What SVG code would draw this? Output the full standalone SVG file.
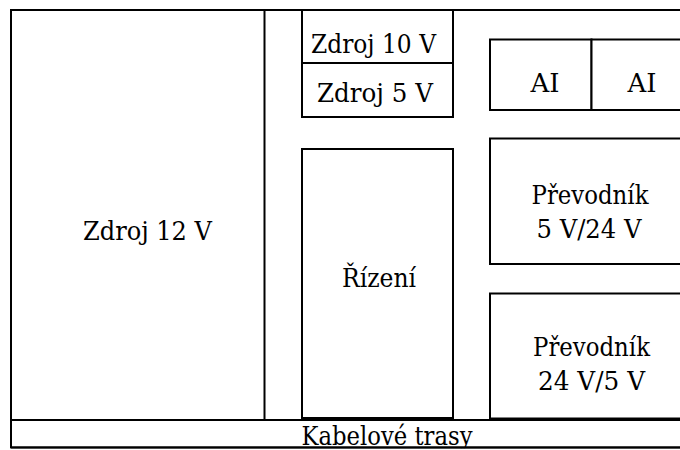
<svg xmlns="http://www.w3.org/2000/svg" width="680" height="450" viewBox="0 0 680 450">
<style>
.b{fill:#fff;stroke:#000;stroke-width:2}
.t{font-family:'DejaVu Serif','Liberation Serif',serif;font-size:26px;fill:#000;text-anchor:middle}
</style>
<rect x="0" y="0" width="680" height="450" fill="#fff"/>
<g id="frame">
<rect class="b" x="11" y="10" width="680" height="437.5"/>
</g>
<g id="kabelove-trasy">
<rect class="b" x="11" y="420" width="680" height="27.5"/>
<text class="t" x="387" y="445" textLength="171" lengthAdjust="spacingAndGlyphs">Kabelové trasy</text>
<rect x="0" y="448.5" width="680" height="2" fill="#fff"/>
<line x1="11" y1="447.5" x2="680" y2="447.5" stroke="#000" stroke-width="2"/>
</g>
<g id="zdroj12">
<rect class="b" x="11" y="10" width="253.5" height="410"/>
<text class="t" x="147.5" y="240" textLength="129" lengthAdjust="spacingAndGlyphs">Zdroj 12 V</text>
</g>
<g id="zdroj10">
<rect class="b" x="302" y="10" width="151" height="53"/>
<text class="t" x="373.5" y="53" textLength="125" lengthAdjust="spacingAndGlyphs">Zdroj 10 V</text>
</g>
<g id="zdroj5">
<rect class="b" x="302" y="63" width="151" height="54"/>
<text class="t" x="375" y="102" textLength="116" lengthAdjust="spacingAndGlyphs">Zdroj 5 V</text>
</g>
<g id="rizeni">
<rect class="b" x="302" y="149" width="151" height="269"/>
<text class="t" x="379" y="286.5" textLength="74" lengthAdjust="spacingAndGlyphs">Řízení</text>
</g>
<g id="ai1">
<rect class="b" x="490" y="39.5" width="101.5" height="70.5"/>
<text class="t" x="545" y="92" textLength="29" lengthAdjust="spacingAndGlyphs">AI</text>
</g>
<g id="ai2">
<rect class="b" x="591.5" y="39.5" width="100" height="70.5"/>
<text class="t" x="642" y="92" textLength="29" lengthAdjust="spacingAndGlyphs">AI</text>
</g>
<g id="prevodnik1">
<rect class="b" x="490" y="138.5" width="200" height="125.5"/>
<text class="t" x="590" y="204" textLength="117" lengthAdjust="spacingAndGlyphs">Převodník</text>
<text class="t" x="589" y="238" textLength="105" lengthAdjust="spacingAndGlyphs">5 V/24 V</text>
</g>
<g id="prevodnik2">
<rect class="b" x="490" y="293.5" width="200" height="125"/>
<text class="t" x="591.5" y="356" textLength="117" lengthAdjust="spacingAndGlyphs">Převodník</text>
<text class="t" x="591.5" y="390" textLength="107" lengthAdjust="spacingAndGlyphs">24 V/5 V</text>
</g>
</svg>
